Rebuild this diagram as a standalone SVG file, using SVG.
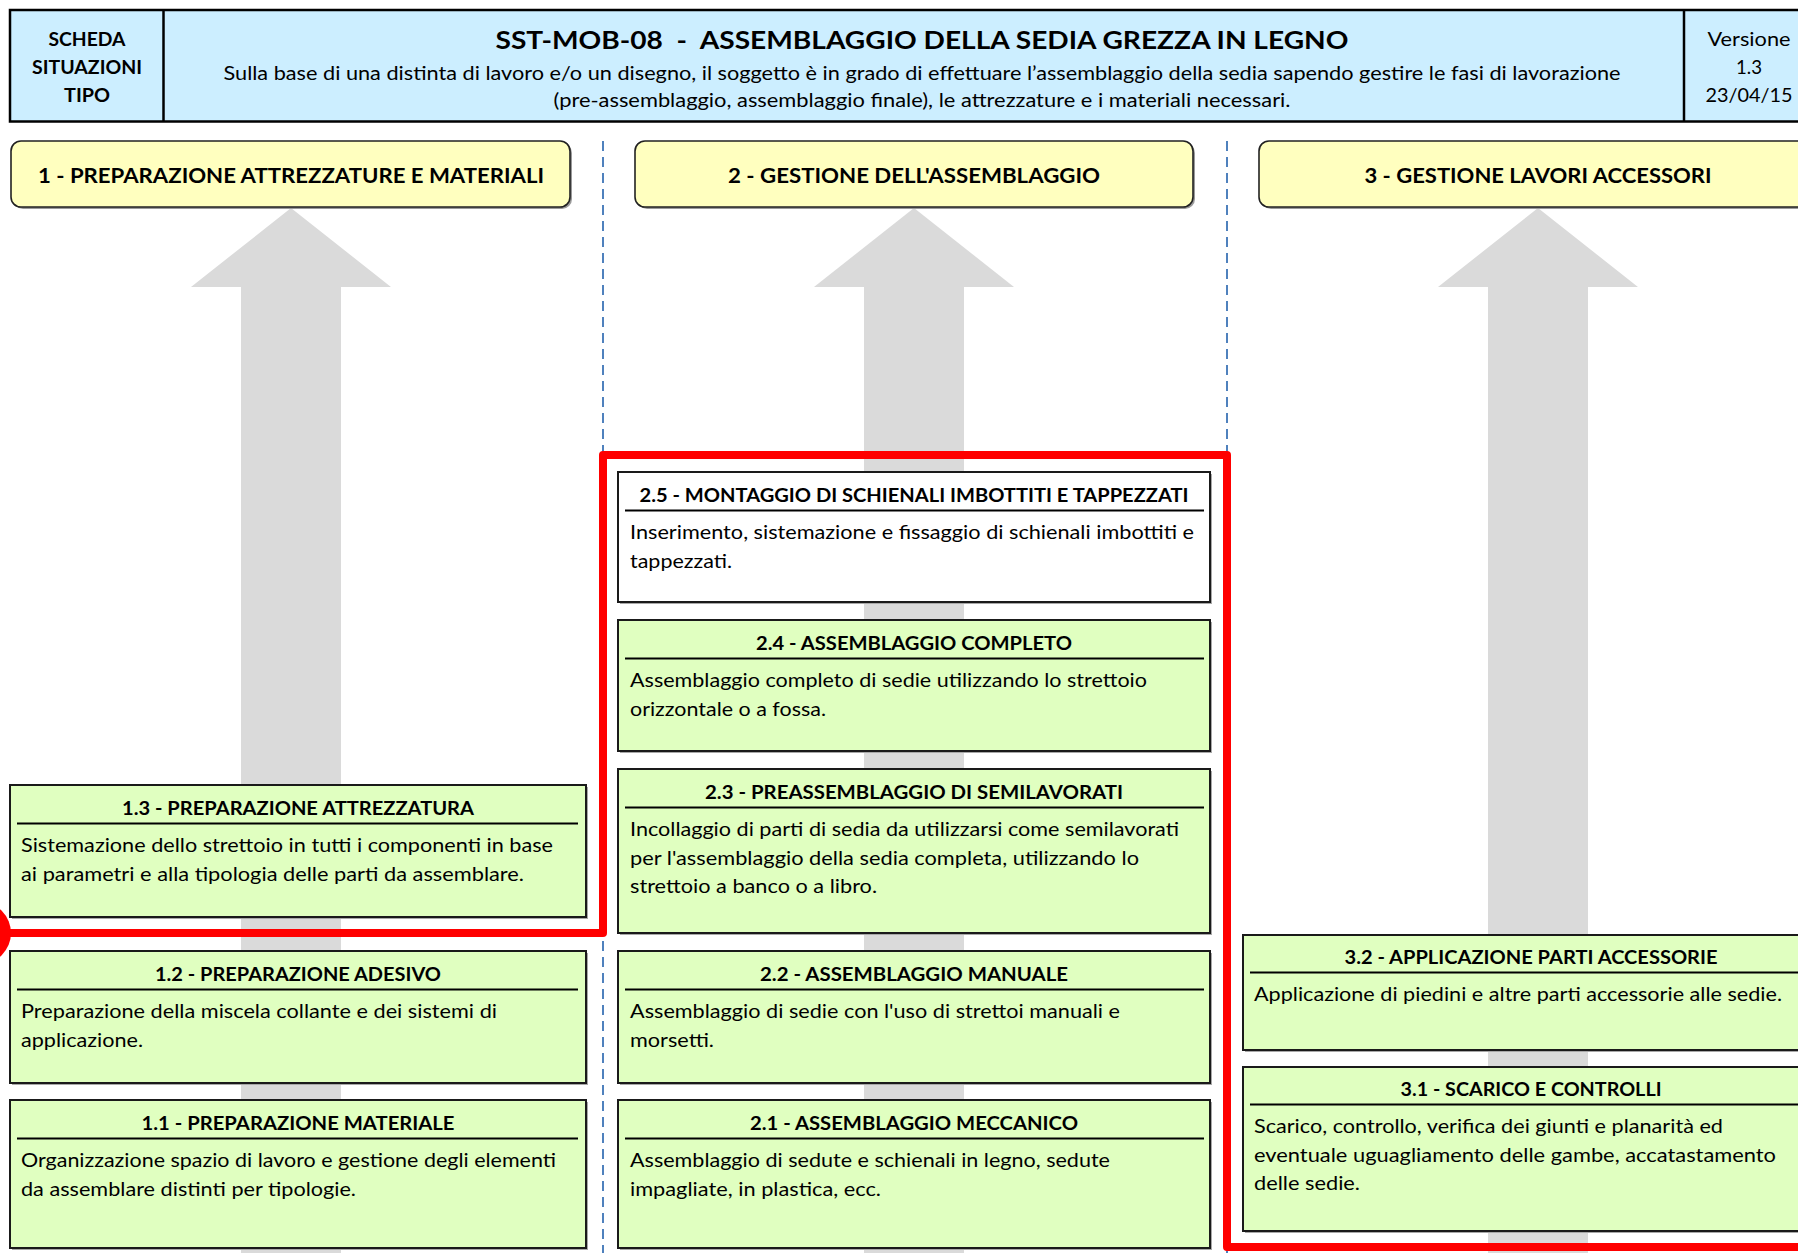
<svg xmlns="http://www.w3.org/2000/svg" width="1798" height="1253" viewBox="0 0 1798 1253">
  <style>
    text { font-family: Lato, "Liberation Sans", sans-serif; fill: #000; }
    .hdr { fill: #cceeff; stroke: #000; stroke-width: 2.5; }
    .hdrline { stroke: #000; stroke-width: 2.5; }
    .title { font-size: 25px; font-weight: bold; text-anchor: middle; white-space: pre; }
    .sub { font-size: 18.5px; text-anchor: middle; }
    .cellb { font-size: 19px; font-weight: bold; text-anchor: middle; }
    .cell { font-size: 19px; text-anchor: middle; }
    .phase { fill: #ffffbf; stroke: #222; stroke-width: 1.6; }
    .phase-shadow { fill: #9a9a9a; }
    .phase-t { font-size: 20px; font-weight: bold; text-anchor: middle; }
    .arrow { fill: #dadada; }
    .lane { stroke: #4f81bd; stroke-width: 2; stroke-dasharray: 10 6; fill: none; }
    .box { fill: #e0ffc0; stroke: #1a1a1a; stroke-width: 2; }
    .box.white { fill: #ffffff; }
    .box-shadow { fill: #a8a8a8; }
    .rule { stroke: #000; stroke-width: 2.2; }
    .bt { font-size: 19px; font-weight: bold; text-anchor: middle; }
    .bd { font-size: 19px; }
    .frame { fill: none; stroke: #ff0000; stroke-width: 8; stroke-linejoin: round; }
  </style>

  <rect width="1798" height="1253" fill="#ffffff"/>

  <!-- header band -->
  <g id="header">
    <rect class="hdr" x="10" y="10" width="1800" height="111.5"/>
    <line class="hdrline" x1="163.5" y1="10" x2="163.5" y2="121.5"/>
    <line class="hdrline" x1="1684" y1="10" x2="1684" y2="121.5"/>
    <text class="cellb" x="87" y="46" textLength="77" lengthAdjust="spacingAndGlyphs">SCHEDA</text>
    <text class="cellb" x="87" y="74" textLength="110" lengthAdjust="spacingAndGlyphs">SITUAZIONI</text>
    <text class="cellb" x="87" y="102" textLength="46" lengthAdjust="spacingAndGlyphs">TIPO</text>
    <text class="title" x="922" y="49" xml:space="preserve" textLength="853" lengthAdjust="spacingAndGlyphs">SST-MOB-08  -  ASSEMBLAGGIO DELLA SEDIA GREZZA IN LEGNO</text>
    <text class="sub" x="922" y="80" textLength="1397" lengthAdjust="spacingAndGlyphs">Sulla base di una distinta di lavoro e/o un disegno, il soggetto è in grado di effettuare l’assemblaggio della sedia sapendo gestire le fasi di lavorazione</text>
    <text class="sub" x="922" y="107" textLength="737" lengthAdjust="spacingAndGlyphs">(pre-assemblaggio, assemblaggio finale), le attrezzature e i materiali necessari.</text>
    <text class="cell" x="1749" y="46" textLength="83" lengthAdjust="spacingAndGlyphs">Versione</text>
    <text class="cell" x="1749" y="74" textLength="26" lengthAdjust="spacingAndGlyphs">1.3</text>
    <text class="cell" x="1749" y="102" textLength="87" lengthAdjust="spacingAndGlyphs">23/04/15</text>
  </g>

  <!-- lane separators -->
  <g id="lanes">
    <line class="lane" x1="603" y1="141" x2="603" y2="1253"/>
    <line class="lane" x1="1227" y1="141" x2="1227" y2="1253"/>
  </g>

  <!-- big upward arrows -->
  <g id="arrows">
    <polygon class="arrow" points="291,208 391,287 341,287 341,1253 241,1253 241,287 191,287"/>
    <polygon class="arrow" points="914,208 1014,287 964,287 964,1253 864,1253 864,287 814,287"/>
    <polygon class="arrow" points="1538,208 1638,287 1588,287 1588,1253 1488,1253 1488,287 1438,287"/>
  </g>

  <!-- phase headers -->
  <g id="phase1">
    <rect class="phase-shadow" x="13" y="143" width="559" height="66" rx="10"/>
    <rect class="phase" x="11" y="141" width="559" height="66" rx="10"/>
    <text class="phase-t" x="291" y="183" textLength="506" lengthAdjust="spacingAndGlyphs">1 - PREPARAZIONE ATTREZZATURE E MATERIALI</text>
  </g>
  <g id="phase2">
    <rect class="phase-shadow" x="637" y="143" width="558" height="66" rx="10"/>
    <rect class="phase" x="635" y="141" width="558" height="66" rx="10"/>
    <text class="phase-t" x="914" y="183" textLength="372" lengthAdjust="spacingAndGlyphs">2 - GESTIONE DELL'ASSEMBLAGGIO</text>
  </g>
  <g id="phase3">
    <rect class="phase-shadow" x="1261" y="143" width="558" height="66" rx="10"/>
    <rect class="phase" x="1259" y="141" width="558" height="66" rx="10"/>
    <text class="phase-t" x="1538" y="183" textLength="347" lengthAdjust="spacingAndGlyphs">3 - GESTIONE LAVORI ACCESSORI</text>
  </g>

  <!-- column 1 -->
  <g id="n1-3">
    <rect class="box-shadow" x="12" y="787" width="576" height="132"/>
    <rect class="box" x="10" y="785" width="576" height="132"/>
    <text class="bt" x="298" y="815" textLength="352" lengthAdjust="spacingAndGlyphs">1.3 - PREPARAZIONE ATTREZZATURA</text>
    <line class="rule" x1="17" y1="823.5" x2="578" y2="823.5"/>
    <text class="bd" x="21" y="852" textLength="532" lengthAdjust="spacingAndGlyphs">Sistemazione dello strettoio in tutti i componenti in base</text>
    <text class="bd" x="21" y="880.5" textLength="503" lengthAdjust="spacingAndGlyphs">ai parametri e alla tipologia delle parti da assemblare.</text>
  </g>
  <g id="n1-2">
    <rect class="box-shadow" x="12" y="953" width="576" height="132"/>
    <rect class="box" x="10" y="951" width="576" height="132"/>
    <text class="bt" x="298" y="981" textLength="286" lengthAdjust="spacingAndGlyphs">1.2 - PREPARAZIONE ADESIVO</text>
    <line class="rule" x1="17" y1="989.5" x2="578" y2="989.5"/>
    <text class="bd" x="21" y="1018" textLength="476" lengthAdjust="spacingAndGlyphs">Preparazione della miscela collante e dei sistemi di</text>
    <text class="bd" x="21" y="1046.5" textLength="122" lengthAdjust="spacingAndGlyphs">applicazione.</text>
  </g>
  <g id="n1-1">
    <rect class="box-shadow" x="12" y="1102" width="576" height="148"/>
    <rect class="box" x="10" y="1100" width="576" height="148"/>
    <text class="bt" x="298" y="1130" textLength="313" lengthAdjust="spacingAndGlyphs">1.1 - PREPARAZIONE MATERIALE</text>
    <line class="rule" x1="17" y1="1138.5" x2="578" y2="1138.5"/>
    <text class="bd" x="21" y="1167" textLength="535" lengthAdjust="spacingAndGlyphs">Organizzazione spazio di lavoro e gestione degli elementi</text>
    <text class="bd" x="21" y="1195.5" textLength="335" lengthAdjust="spacingAndGlyphs">da assemblare distinti per tipologie.</text>
  </g>

  <!-- column 2 -->
  <g id="n2-5">
    <rect class="box-shadow" x="620" y="474" width="592" height="130"/>
    <rect class="box white" x="618" y="472" width="592" height="130"/>
    <text class="bt" x="914" y="502" textLength="549" lengthAdjust="spacingAndGlyphs">2.5 - MONTAGGIO DI SCHIENALI IMBOTTITI E TAPPEZZATI</text>
    <line class="rule" x1="625" y1="510.5" x2="1204" y2="510.5"/>
    <text class="bd" x="630" y="539" textLength="564" lengthAdjust="spacingAndGlyphs">Inserimento, sistemazione e fissaggio di schienali imbottiti e</text>
    <text class="bd" x="630" y="567.5" textLength="102" lengthAdjust="spacingAndGlyphs">tappezzati.</text>
  </g>
  <g id="n2-4">
    <rect class="box-shadow" x="620" y="622" width="592" height="131"/>
    <rect class="box" x="618" y="620" width="592" height="131"/>
    <text class="bt" x="914" y="650" textLength="316" lengthAdjust="spacingAndGlyphs">2.4 - ASSEMBLAGGIO COMPLETO</text>
    <line class="rule" x1="625" y1="658.5" x2="1204" y2="658.5"/>
    <text class="bd" x="630" y="687" textLength="517" lengthAdjust="spacingAndGlyphs">Assemblaggio completo di sedie utilizzando lo strettoio</text>
    <text class="bd" x="630" y="715.5" textLength="196" lengthAdjust="spacingAndGlyphs">orizzontale o a fossa.</text>
  </g>
  <g id="n2-3">
    <rect class="box-shadow" x="620" y="771" width="592" height="164"/>
    <rect class="box" x="618" y="769" width="592" height="164"/>
    <text class="bt" x="914" y="799" textLength="418" lengthAdjust="spacingAndGlyphs">2.3 - PREASSEMBLAGGIO DI SEMILAVORATI</text>
    <line class="rule" x1="625" y1="807.5" x2="1204" y2="807.5"/>
    <text class="bd" x="630" y="836" textLength="549" lengthAdjust="spacingAndGlyphs">Incollaggio di parti di sedia da utilizzarsi come semilavorati</text>
    <text class="bd" x="630" y="864.5" textLength="509" lengthAdjust="spacingAndGlyphs">per l'assemblaggio della sedia completa, utilizzando lo</text>
    <text class="bd" x="630" y="893" textLength="247" lengthAdjust="spacingAndGlyphs">strettoio a banco o a libro.</text>
  </g>
  <g id="n2-2">
    <rect class="box-shadow" x="620" y="953" width="592" height="132"/>
    <rect class="box" x="618" y="951" width="592" height="132"/>
    <text class="bt" x="914" y="981" textLength="308" lengthAdjust="spacingAndGlyphs">2.2 - ASSEMBLAGGIO MANUALE</text>
    <line class="rule" x1="625" y1="989.5" x2="1204" y2="989.5"/>
    <text class="bd" x="630" y="1018" textLength="490" lengthAdjust="spacingAndGlyphs">Assemblaggio di sedie con l'uso di strettoi manuali e</text>
    <text class="bd" x="630" y="1046.5" textLength="84" lengthAdjust="spacingAndGlyphs">morsetti.</text>
  </g>
  <g id="n2-1">
    <rect class="box-shadow" x="620" y="1102" width="592" height="148"/>
    <rect class="box" x="618" y="1100" width="592" height="148"/>
    <text class="bt" x="914" y="1130" textLength="328" lengthAdjust="spacingAndGlyphs">2.1 - ASSEMBLAGGIO MECCANICO</text>
    <line class="rule" x1="625" y1="1138.5" x2="1204" y2="1138.5"/>
    <text class="bd" x="630" y="1167" textLength="480" lengthAdjust="spacingAndGlyphs">Assemblaggio di sedute e schienali in legno, sedute</text>
    <text class="bd" x="630" y="1195.5" textLength="251" lengthAdjust="spacingAndGlyphs">impagliate, in plastica, ecc.</text>
  </g>

  <!-- column 3 -->
  <g id="n3-2">
    <rect class="box-shadow" x="1245" y="937" width="576" height="115"/>
    <rect class="box" x="1243" y="935" width="576" height="115"/>
    <text class="bt" x="1531" y="964" textLength="373" lengthAdjust="spacingAndGlyphs">3.2 - APPLICAZIONE PARTI ACCESSORIE</text>
    <line class="rule" x1="1250" y1="972.5" x2="1812" y2="972.5"/>
    <text class="bd" x="1254" y="1001" textLength="528" lengthAdjust="spacingAndGlyphs">Applicazione di piedini e altre parti accessorie alle sedie.</text>
  </g>
  <g id="n3-1">
    <rect class="box-shadow" x="1245" y="1069" width="576" height="164"/>
    <rect class="box" x="1243" y="1067" width="576" height="164"/>
    <text class="bt" x="1531" y="1096" textLength="261" lengthAdjust="spacingAndGlyphs">3.1 - SCARICO E CONTROLLI</text>
    <line class="rule" x1="1250" y1="1104.5" x2="1812" y2="1104.5"/>
    <text class="bd" x="1254" y="1133" textLength="469" lengthAdjust="spacingAndGlyphs">Scarico, controllo, verifica dei giunti e planarità ed</text>
    <text class="bd" x="1254" y="1161.5" textLength="522" lengthAdjust="spacingAndGlyphs">eventuale uguagliamento delle gambe, accatastamento</text>
    <text class="bd" x="1254" y="1190" textLength="106" lengthAdjust="spacingAndGlyphs">delle sedie.</text>
  </g>

  <!-- red boundary line -->
  <g id="connectors">
    <path class="frame" d="M 0 933 H 603 V 455 H 1227 V 1247 H 1810"/>
    <circle cx="-20" cy="933" r="31" fill="#ff0000"/>
  </g>
</svg>
